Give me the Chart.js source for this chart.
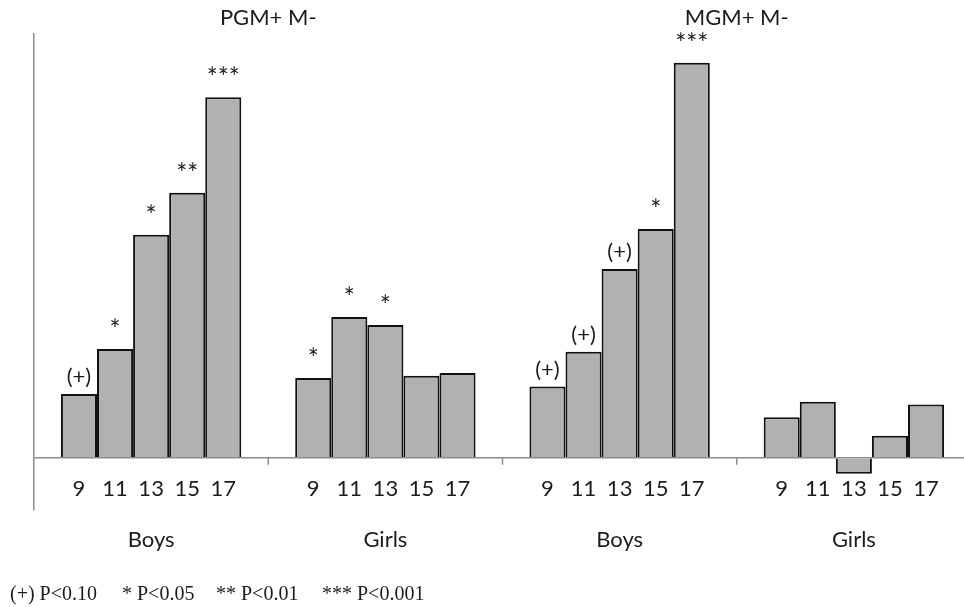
<!DOCTYPE html>
<html>
<head>
<meta charset="utf-8">
<script src="https://cdn.jsdelivr.net/npm/chart.js@4/dist/chart.umd.min.js"></script>
<style>
  html, body { margin: 0; padding: 0; background: #fff; overflow: hidden; }
  #wrap { width: 975px; height: 607px; }
</style>
</head>
<body>
<div id="wrap"><canvas id="chart" width="975" height="607"></canvas></div>
<script>
const groups = ['Boys', 'Girls', 'Boys', 'Girls'];
const ages = ['9', '11', '13', '15', '17'];
const panels = ['PGM+ M-', 'MGM+ M-'];

// one array per group, one value per age
const pgmBoys = [1.59, 2.72, 5.58, 6.63, 9.02];
const pgmGirls = [1.99, 3.52, 3.32, 2.05, 2.12];
const mgmBoys = [1.78, 2.65, 4.72, 5.72, 9.88];
const mgmGirls = [1.01, 1.40, -0.40, 0.55, 1.33];

const pgmBoysSig = ['(+)', '*', '*', '**', '***'];
const pgmGirlsSig = ['*', '*', '*', '', ''];
const mgmBoysSig = ['(+)', '(+)', '(+)', '*', '***'];
const mgmGirlsSig = ['', '', '', '', ''];

const legendText = ['(+) P<0.10', '* P<0.05', '** P<0.01', '*** P<0.001'];

const groupValues = [pgmBoys, pgmGirls, mgmBoys, mgmGirls];
const groupSig = [pgmBoysSig, pgmGirlsSig, mgmBoysSig, mgmGirlsSig];

const font = 'Lato, "Open Sans", sans-serif';
const textColor = '#1c1c1c';
const axisColor = '#8c8c8c';

const datasets = ages.map((age, a) => ({
  label: age,
  data: groupValues.map((g) => g[a]),
  backgroundColor: '#b1b1b1',
  borderColor: '#111',
  borderWidth: 2,
  barPercentage: 1,
  categoryPercentage: 0.77,
}));

const overlay = {
  id: 'overlay',
  afterDatasetsDraw(chart) {
    const { ctx, scales: { x, y } } = chart;
    const zero = y.getPixelForValue(0);
    ctx.save();

    // small ticks between groups
    ctx.strokeStyle = axisColor;
    ctx.lineWidth = 1.5;
    for (let i = 1; i < groups.length; i++) {
      const bx = (x.getPixelForValue(i - 1) + x.getPixelForValue(i)) / 2;
      ctx.beginPath();
      ctx.moveTo(bx, zero);
      ctx.lineTo(bx, zero + 7);
      ctx.stroke();
    }

    ctx.fillStyle = textColor;
    ctx.textAlign = 'center';

    ages.forEach((age, a) => {
      const meta = chart.getDatasetMeta(a);
      meta.data.forEach((bar, i) => {
        ctx.font = '22px ' + font;
        ctx.textBaseline = 'middle';
        ctx.fillText(age, bar.x, zero + 31);
        const sig = groupSig[i][a];
        if (sig) {
          // asterisks are drawn a bit larger, as in the original
          ctx.font = (sig[0] === '*' ? '26px ' : '22px ') + font;
          ctx.textBaseline = 'alphabetic';
          ctx.fillText(sig, bar.x, Math.min(bar.y, zero) - 10);
        }
      });
    });

    // panel titles centred over each pair of groups
    ctx.font = '22px ' + font;
    ctx.textBaseline = 'middle';
    panels.forEach((p, k) => {
      const px = (x.getPixelForValue(k * 2) + x.getPixelForValue(k * 2 + 1)) / 2;
      ctx.fillText(p, px, 18);
    });

    // significance key
    ctx.font = '20px "Liberation Serif", "Times New Roman", serif';
    ctx.textAlign = 'left';
    ctx.textBaseline = 'alphabetic';
    const keyX = [10, 122, 216, 322];
    legendText.forEach((t, i) => ctx.fillText(t, keyX[i], 600));

    ctx.restore();
  },
};

const config = {
  type: 'bar',
  data: { labels: groups, datasets: datasets },
  options: {
    responsive: false,
    animation: false,
    layout: { padding: { left: 34, right: 4, top: 34, bottom: 37 } },
    plugins: {
      legend: { display: false },
      tooltip: { enabled: false },
    },
    scales: {
      x: {
        grid: { display: false, drawTicks: false },
        border: { display: false },
        ticks: { color: textColor, font: { family: font, size: 22 }, padding: 17 },
      },
      y: {
        min: -1.3,
        max: 10.6,
        ticks: { display: false, stepSize: 1 },
        grid: {
          drawTicks: false,
          lineWidth: 1.5,
          color: (c) => (c.tick && c.tick.value === 0 ? axisColor : 'rgba(0,0,0,0)'),
        },
        border: { display: true, color: axisColor, width: 1.5 },
      },
    },
  },
  plugins: [overlay],
};

new Chart(document.getElementById('chart').getContext('2d'), config);
</script>
</body>
</html>
